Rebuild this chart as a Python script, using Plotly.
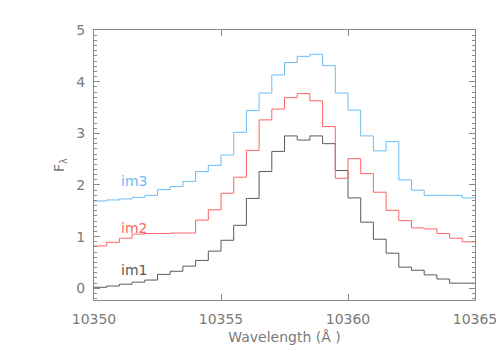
import numpy as np
import plotly.graph_objects as go

# Bin left edges (0.5 Å bins from 10350 to 10365)
wavelength = list(np.arange(10350.0, 10365.0, 0.5))
bin_width = 0.5

im1 = [0.02, 0.045, 0.08, 0.12, 0.16, 0.27, 0.33, 0.43, 0.54, 0.72,
       0.93, 1.22, 1.74, 2.26, 2.65, 2.95, 2.87, 2.95, 2.80, 2.28,
       1.75, 1.28, 0.95, 0.68, 0.41, 0.35, 0.26, 0.18, 0.10, 0.10]
im2 = [0.82, 0.89, 0.97, 1.05, 1.06, 1.06, 1.07, 1.07, 1.32, 1.52,
       1.84, 2.15, 2.67, 3.26, 3.47, 3.69, 3.77, 3.63, 3.13, 2.13,
       2.51, 2.22, 1.86, 1.51, 1.31, 1.17, 1.15, 1.06, 0.97, 0.90]
im3 = [1.69, 1.71, 1.73, 1.76, 1.80, 1.91, 1.97, 2.07, 2.26, 2.38,
       2.58, 3.02, 3.44, 3.78, 4.13, 4.37, 4.49, 4.53, 4.31, 3.78,
       3.45, 2.95, 2.66, 2.84, 2.10, 1.90, 1.80, 1.80, 1.80, 1.75]

series = [("im1", im1, "#5a5a5a", 0.35),
          ("im2", im2, "#ff6464", 1.16),
          ("im3", im3, "#6cbcf6", 2.08)]

x_tick_vals = [10350, 10355, 10360, 10365]
x_tick_text = ["10350", "10355", "10360", "10365"]
y_tick_vals = [0, 1, 2, 3, 4, 5]

FONT = "DejaVu Sans"
TXT = "#7a7a7a"
AX = "#8a8a8a"

fig = go.Figure()
for name, vals, color, ylab in series:
    xs = wavelength + [wavelength[-1] + bin_width]
    ys = vals + [vals[-1]]
    fig.add_trace(go.Scatter(x=xs, y=ys, mode="lines", name=name,
                             line=dict(color=color, width=1, shape="hv"),
                             showlegend=False, hoverinfo="skip"))
    fig.add_annotation(x=10351, y=ylab, text=name, showarrow=False,
                       xanchor="left", yanchor="middle",
                       font=dict(family=FONT, size=14, color=color))

fig.update_layout(
    width=504, height=360,
    margin=dict(l=94, r=29, t=30, b=60, autoexpand=False),
    paper_bgcolor="white", plot_bgcolor="white",
    font=dict(family=FONT, size=14, color=TXT),
)
fig.update_xaxes(
    range=[10350, 10365], tickvals=x_tick_vals, ticktext=x_tick_text,
    ticks="inside", ticklen=6, tickcolor=AX, showline=True, linecolor=AX,
    linewidth=1, mirror="ticks", showgrid=False, zeroline=False,
    ticklabelstandoff=6, ticklabeloverflow="allow",
    tickfont=dict(family=FONT, size=14, color=TXT),
    title=dict(text="Wavelength (Å )", standoff=6,
               font=dict(family=FONT, size=14, color=TXT)),
)
fig.update_yaxes(
    range=[-0.226, 5], tickvals=y_tick_vals,
    ticks="inside", ticklen=6, tickcolor=AX, showline=True, linecolor=AX,
    linewidth=1, mirror="ticks", showgrid=False, zeroline=False,
    ticklabelstandoff=5, ticklabeloverflow="allow",
    minor=dict(ticks="inside", ticklen=3, dtick=0.1, tickcolor=AX, showgrid=False),
    tickfont=dict(family=FONT, size=14, color=TXT),
    title=dict(text="F<sub>λ</sub>", standoff=8,
               font=dict(family=FONT, size=14, color=TXT)),
)

fig.write_html("out.html", config={"displayModeBar": False},
               post_script="document.body.style.margin='0';document.body.style.overflow='hidden';")
